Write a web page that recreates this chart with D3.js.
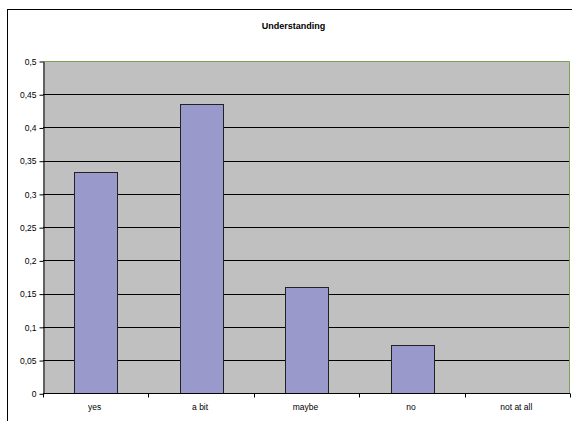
<!DOCTYPE html>
<html><head><meta charset="utf-8">
<script src="https://cdn.jsdelivr.net/npm/d3@7"></script>
<style>body{margin:0;background:#fff}svg{display:block}</style>
</head><body>
<script>
const categories = ["yes", "a bit", "maybe", "no", "not at all"];
const values = [0.3333, 0.4348, 0.1594, 0.0725, 0];
const yTicks = [0, 0.05, 0.1, 0.15, 0.2, 0.25, 0.3, 0.35, 0.4, 0.45, 0.5];
const title = "Understanding";

const W = 572, H = 421;
const m = {left: 43, right: 2, top: 61, bottom: 421 - 393.3};
const svg = d3.select("body").append("svg").attr("width", W).attr("height", H);

svg.append("rect").attr("x", 7.5).attr("y", 9.5).attr("width", W + 10).attr("height", H + 10)
  .attr("fill", "#fff").attr("stroke", "#000").attr("stroke-width", 1);

const x = d3.scaleBand().domain(categories).range([m.left, W - m.right]).paddingInner(0).paddingOuter(0);
const y = d3.scaleLinear().domain([0, 0.5]).range([H - m.bottom, m.top]);

const x0 = m.left, x1 = W - m.right, y0 = y(0), y1 = y(0.5);
svg.append("rect").attr("x", x0).attr("y", y1).attr("width", x1 - x0).attr("height", y0 - y1).attr("fill", "#c0c0c0");

// gridlines
svg.append("g").selectAll("line").data(yTicks.filter(t => t > 0 && t < 0.5)).join("line")
  .attr("x1", x0).attr("x2", x1).attr("y1", d => Math.round(y(d)) + 0.5).attr("y2", d => Math.round(y(d)) + 0.5)
  .attr("stroke", "#000").attr("stroke-width", 1);

// plot border top/right (green)
svg.append("path").attr("d", `M${x0},${Math.round(y1)+0.5}H${x1-0.5}V${y0}`).attr("fill", "none")
  .attr("stroke", "#7fa05a").attr("stroke-width", 1);

// bars
const bw = x.bandwidth() * 0.405;
svg.append("g").selectAll("rect").data(categories).join("rect")
  .attr("x", (d) => Math.round(x(d) + (x.bandwidth() - bw) / 2) + 0.5)
  .attr("y", (d, i) => Math.round(y(values[i])) + 0.5)
  .attr("width", Math.round(bw))
  .attr("height", (d, i) => Math.round(y0) - Math.round(y(values[i])))
  .attr("fill", "#9999cc").attr("stroke", "#222").attr("stroke-width", 1)
  .attr("display", (d, i) => values[i] > 0 ? null : "none");

// y axis
const yAxis = d3.axisLeft(y).tickValues(yTicks).tickSize(4).tickSizeOuter(0)
  .tickFormat(d => d3.format("")(d).replace(".", ","));
const gy = svg.append("g").attr("transform", `translate(${x0 + 0.5},0.5)`).call(yAxis);
gy.select(".domain").attr("stroke", "#000");
gy.selectAll(".tick line").attr("stroke", "#000");
gy.selectAll("text").attr("x", -7).attr("font-family", "Liberation Sans, Arial, sans-serif").attr("font-size", 8.5).attr("fill", "#000");

// x axis
const gx = svg.append("g").attr("transform", `translate(0,${Math.round(y0) + 0.5})`);
gx.append("line").attr("x1", x0).attr("x2", x1).attr("stroke", "#000");
const bounds = categories.map(c => x(c)).concat([x1]);
gx.selectAll(".tk").data(bounds).join("line").attr("class", "tk")
  .attr("x1", d => Math.round(d) + 0.5).attr("x2", d => Math.round(d) + 0.5).attr("y1", 0).attr("y2", 4).attr("stroke", "#000");
gx.selectAll("text").data(categories).join("text")
  .attr("x", d => x(d) + x.bandwidth() / 2 - 1).attr("y", 16.5)
  .attr("text-anchor", "middle").attr("font-family", "Liberation Sans, Arial, sans-serif").attr("font-size", 8.5).attr("fill", "#000")
  .text(d => d);

svg.append("text").attr("x", 293.5).attr("y", 28.5).attr("text-anchor", "middle")
  .attr("font-family", "Liberation Sans, Arial, sans-serif").attr("font-size", 9).attr("font-weight", "bold")
  .text(title);
</script>
</body></html>
